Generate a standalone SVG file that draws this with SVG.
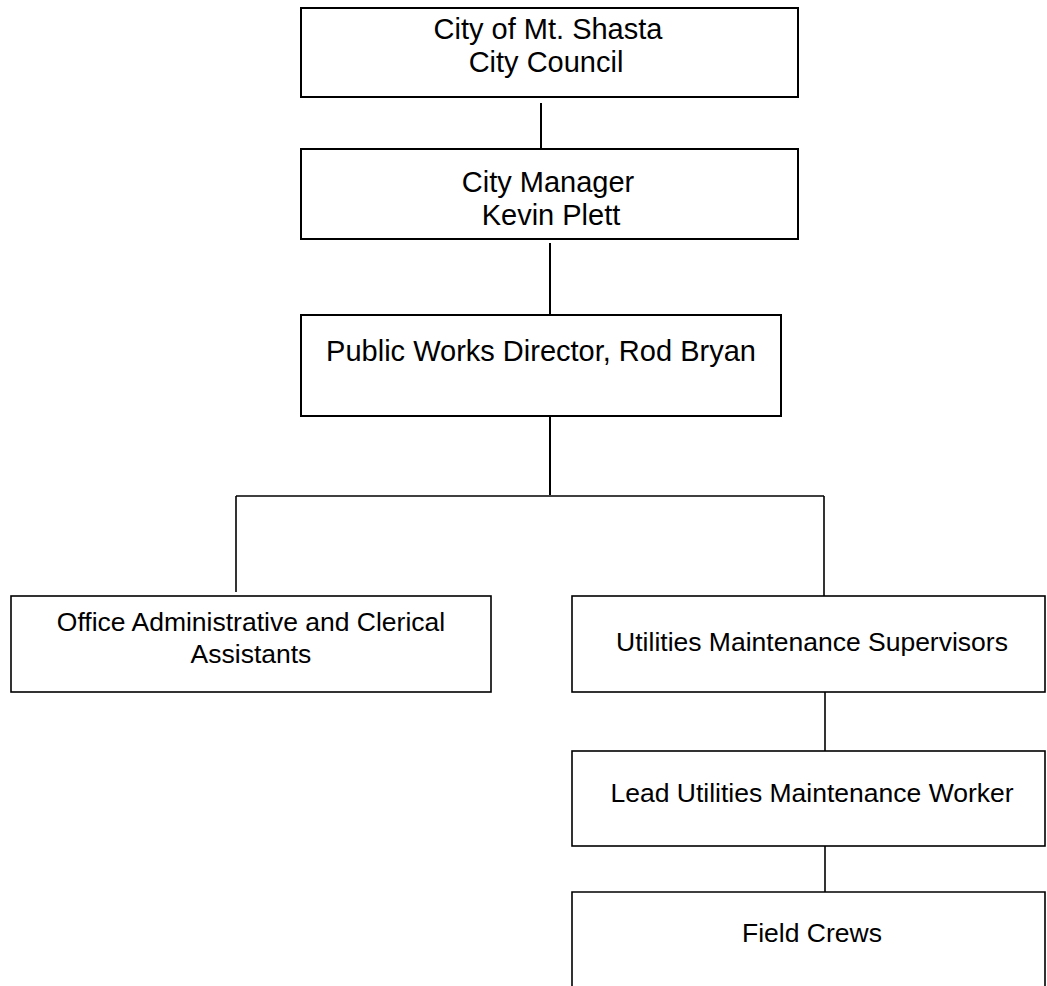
<svg xmlns="http://www.w3.org/2000/svg" width="1047" height="986" viewBox="0 0 1047 986">
<style>
.box{fill:#fff;stroke:#000;stroke-width:2}
.lbox{fill:#fff;stroke:#000;stroke-width:1.6}
.c{fill:none;stroke:#000;stroke-width:2}
.cl{fill:none;stroke:#000;stroke-width:1.6}
.t{font-family:"Liberation Sans",Arial,sans-serif;font-size:29px;fill:#000;text-anchor:middle}
.s{font-family:"Liberation Sans",Arial,sans-serif;font-size:26.5px;fill:#000;text-anchor:middle}
</style>
<rect width="1047" height="986" fill="#fff"/>
<g id="connectors">
<line class="c" x1="541" y1="103" x2="541" y2="149"/>
<line class="c" x1="550" y1="243" x2="550" y2="315"/>
<line class="c" x1="550" y1="416" x2="550" y2="495"/>
<line class="cl" x1="236" y1="496" x2="824" y2="496"/>
<line class="cl" x1="236" y1="496" x2="236" y2="592"/>
<line class="cl" x1="824" y1="496" x2="824" y2="596"/>
<line class="cl" x1="825" y1="692" x2="825" y2="751"/>
<line class="cl" x1="825" y1="846" x2="825" y2="892"/>
</g>
<g id="council">
<rect class="box" x="301" y="8" width="497" height="89"/>
<text class="t" x="548" y="39">City of Mt. Shasta</text>
<text class="t" x="546" y="72">City Council</text>
</g>
<g id="manager">
<rect class="box" x="301" y="149" width="497" height="90"/>
<text class="t" x="548" y="192">City Manager</text>
<text class="t" x="551" y="225">Kevin Plett</text>
</g>
<g id="director">
<rect class="box" x="301" y="315" width="480" height="101"/>
<text class="t" x="541" y="361">Public Works Director, Rod Bryan</text>
</g>
<g id="office">
<rect class="lbox" x="11" y="596" width="480" height="96"/>
<text class="s" x="251" y="631">Office Administrative and Clerical</text>
<text class="s" x="251" y="663">Assistants</text>
</g>
<g id="supervisors">
<rect class="lbox" x="572" y="596" width="473" height="96"/>
<text class="s" x="812" y="651">Utilities Maintenance Supervisors</text>
</g>
<g id="lead">
<rect class="lbox" x="572" y="751" width="473" height="95"/>
<text class="s" x="812" y="802">Lead Utilities Maintenance Worker</text>
</g>
<g id="crews">
<path class="lbox" d="M572 986 V892 H1045 V986"/>
<text class="s" x="812" y="942">Field Crews</text>
</g>
</svg>
